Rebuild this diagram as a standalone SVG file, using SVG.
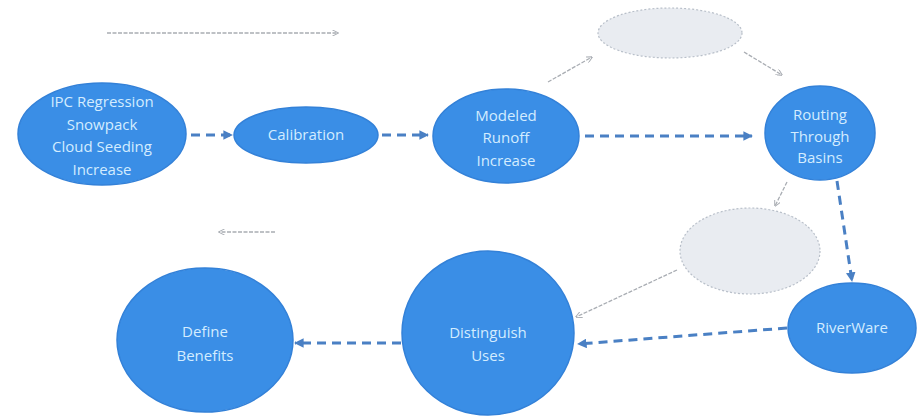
<svg xmlns="http://www.w3.org/2000/svg" width="922" height="417" viewBox="0 0 922 417">
<style>
.node{fill:#3a8ee6;stroke:#3381d8;stroke-width:1.5}
.ghost{fill:#e9ecf1;stroke:#b8bfc9;stroke-width:1.2;stroke-dasharray:2 2}
.lbl{font-family:"Open Sans","Liberation Sans",sans-serif;font-size:15px;fill:#d3ecff;text-anchor:middle}
.dash{fill:none;stroke:#4a80c4;stroke-width:3;stroke-dasharray:9 6;marker-end:url(#ab)}
.thin{fill:none;stroke:#a9adb3;stroke-width:1.3;stroke-dasharray:4 1.5;marker-end:url(#ag)}
</style>
<defs>
<marker id="ab" viewBox="0 0 10 10" refX="9" refY="5" markerWidth="3.2" markerHeight="3.2" orient="auto" markerUnits="strokeWidth">
<path d="M0,0 L10,5 L0,10 z" fill="#4a80c4"/>
</marker>
<marker id="ag" viewBox="0 0 10 10" refX="9" refY="5" markerWidth="5" markerHeight="5" orient="auto" markerUnits="strokeWidth">
<path d="M0,0 L10,5 L0,10" fill="none" stroke="#a9adb3" stroke-width="1.5"/>
</marker>
</defs>
<rect width="922" height="417" fill="#ffffff"/>
<g id="connectors">
<line class="thin" x1="107" y1="33" x2="338" y2="33"/>
<line class="thin" x1="275" y1="232" x2="219" y2="232"/>
<line class="dash" x1="191" y1="135" x2="232" y2="135"/>
<line class="dash" x1="382" y1="135" x2="428" y2="135"/>
<line class="dash" x1="585" y1="136" x2="752" y2="136"/>
<line class="thin" x1="548" y1="82" x2="592" y2="57"/>
<line class="thin" x1="744" y1="52" x2="782" y2="75"/>
<line class="thin" x1="787" y1="182" x2="775" y2="206"/>
<line class="dash" x1="837" y1="181" x2="852" y2="281"/>
<line class="thin" x1="677" y1="270" x2="576" y2="317"/>
<line class="dash" x1="787" y1="328" x2="578" y2="344"/>
<line class="dash" x1="401" y1="343" x2="295" y2="343"/>
</g>
<g id="n-ipc">
<ellipse class="node" cx="102" cy="134" rx="84" ry="51"/>
<text class="lbl" x="102" y="107">IPC Regression</text>
<text class="lbl" x="102" y="130">Snowpack</text>
<text class="lbl" x="102" y="152">Cloud Seeding</text>
<text class="lbl" x="102" y="175">Increase</text>
</g>
<g id="n-calibration">
<ellipse class="node" cx="306" cy="135" rx="72" ry="28"/>
<text class="lbl" x="306" y="140">Calibration</text>
</g>
<g id="n-modeled">
<ellipse class="node" cx="506" cy="136" rx="73" ry="47"/>
<text class="lbl" x="506" y="121">Modeled</text>
<text class="lbl" x="506" y="143">Runoff</text>
<text class="lbl" x="506" y="166">Increase</text>
</g>
<g id="n-ghost-top">
<ellipse class="ghost" cx="670" cy="33" rx="72" ry="25"/>
</g>
<g id="n-routing">
<ellipse class="node" cx="820" cy="133" rx="55" ry="47"/>
<text class="lbl" x="820" y="120">Routing</text>
<text class="lbl" x="820" y="142">Through</text>
<text class="lbl" x="820" y="163">Basins</text>
</g>
<g id="n-ghost-low">
<ellipse class="ghost" cx="750" cy="251" rx="70" ry="43"/>
</g>
<g id="n-riverware">
<ellipse class="node" cx="852" cy="328" rx="64" ry="45"/>
<text class="lbl" x="852" y="333">RiverWare</text>
</g>
<g id="n-distinguish">
<ellipse class="node" cx="488" cy="333" rx="86" ry="82"/>
<text class="lbl" x="488" y="338">Distinguish</text>
<text class="lbl" x="488" y="361">Uses</text>
</g>
<g id="n-define">
<ellipse class="node" cx="205" cy="340" rx="88" ry="72"/>
<text class="lbl" x="205" y="337">Define</text>
<text class="lbl" x="205" y="361">Benefits</text>
</g>
</svg>
